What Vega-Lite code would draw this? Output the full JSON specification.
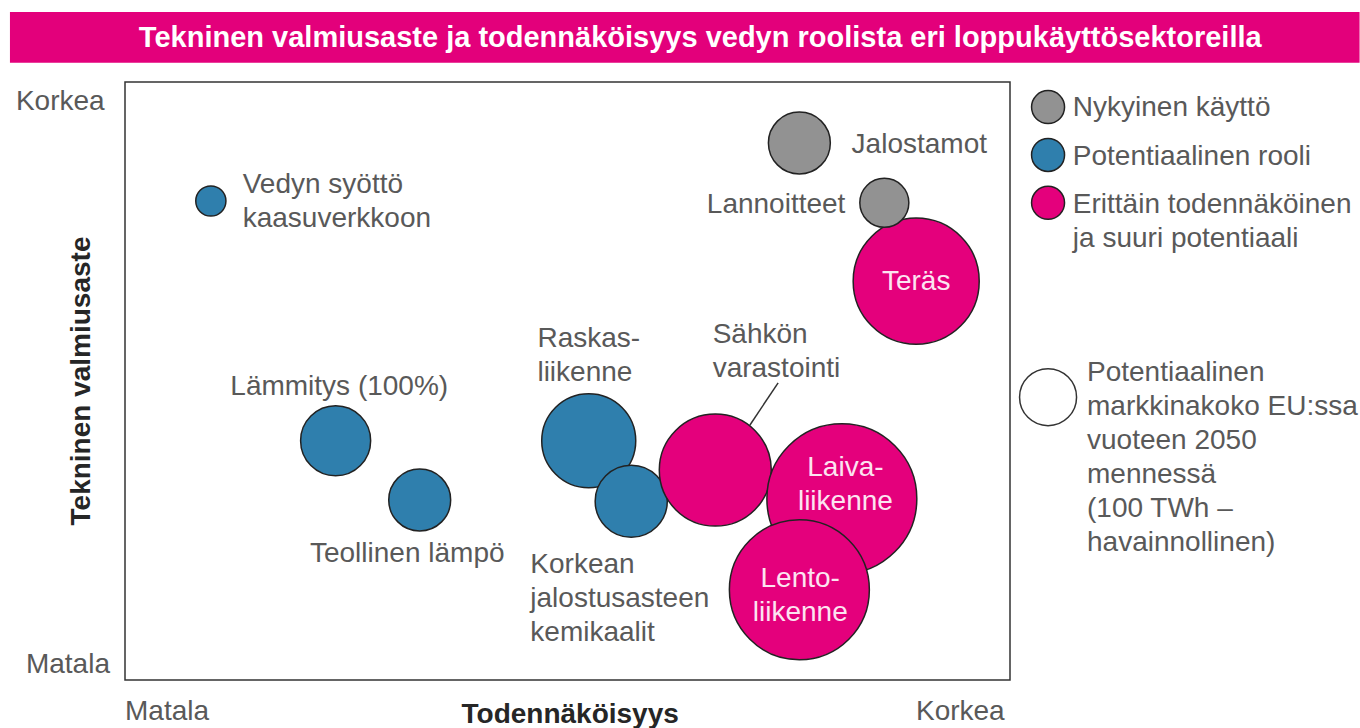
{
  "$schema": "https://vega.github.io/schema/vega-lite/v6.json",
  "width": 885,
  "height": 598,
  "autosize": {"type": "none"},
  "padding": {"left": 125, "top": 82, "right": 350, "bottom": 48},
  "background": "#ffffff",
  "view": {"stroke": "#333333", "strokeWidth": 1.5, "fill": null},
  "config": {"text": {"font": "Liberation Sans", "fontSize": 28, "color": "#595959"}},
  "datasets": {
    "kuplat": [
      {"nimi": "Teräs", "ryhma": "Erittäin todennäköinen ja suuri potentiaali", "x": 89.4, "y": 66.7, "koko": 489},
      {"nimi": "Lannoitteet", "ryhma": "Nykyinen käyttö", "x": 85.8, "y": 79.8, "koko": 74},
      {"nimi": "Jalostamot", "ryhma": "Nykyinen käyttö", "x": 76.2, "y": 89.8, "koko": 118},
      {"nimi": "Vedyn syöttö kaasuverkkoon", "ryhma": "Potentiaalinen rooli", "x": 9.7, "y": 80.1, "koko": 28},
      {"nimi": "Lämmitys (100%)", "ryhma": "Potentiaalinen rooli", "x": 23.8, "y": 40.0, "koko": 151},
      {"nimi": "Teollinen lämpö", "ryhma": "Potentiaalinen rooli", "x": 33.3, "y": 30.1, "koko": 118},
      {"nimi": "Raskasliikenne", "ryhma": "Potentiaalinen rooli", "x": 52.4, "y": 40.0, "koko": 272},
      {"nimi": "Korkean jalostusasteen kemikaalit", "ryhma": "Potentiaalinen rooli", "x": 57.2, "y": 29.9, "koko": 160},
      {"nimi": "Sähkön varastointi", "ryhma": "Erittäin todennäköinen ja suuri potentiaali", "x": 66.7, "y": 35.1, "koko": 386},
      {"nimi": "Laivaliikenne", "ryhma": "Erittäin todennäköinen ja suuri potentiaali", "x": 81.0, "y": 30.3, "koko": 692},
      {"nimi": "Lentoliikenne", "ryhma": "Erittäin todennäköinen ja suuri potentiaali", "x": 76.2, "y": 15.1, "koko": 603}
    ],
    "nimiot_vasen": [
      {"teksti": "Vedyn  syöttö\nkaasuverkkoon", "x": 13.3, "y": 81.4},
      {"teksti": "Lämmitys  (100%)", "x": 11.9, "y": 47.7},
      {"teksti": "Teollinen  lämpö", "x": 20.9, "y": 19.7},
      {"teksti": "Raskas-\nliikenne", "x": 46.6, "y": 55.7},
      {"teksti": "Sähkön\nvarastointi", "x": 66.4, "y": 56.4},
      {"teksti": "Korkean\njalostusasteen\nkemikaalit", "x": 45.8, "y": 17.9},
      {"teksti": "Jalostamot", "x": 82.1, "y": 88.1},
      {"teksti": "Matala", "x": 0, "y": -6.7},
      {"teksti": "Nykyinen  käyttö", "x": 107.1, "y": 94.3},
      {"teksti": "Potentiaalinen  rooli", "x": 107.1, "y": 86.1},
      {"teksti": "Erittäin  todennäköinen\nja  suuri  potentiaali", "x": 107.1, "y": 78.1},
      {"teksti": "Potentiaalinen\nmarkkinakoko  EU:ssa\nvuoteen  2050\nmennessä\n(100 TWh –\nhavainnollinen)", "x": 108.7, "y": 50.0}
    ],
    "nimiot_oikea": [
      {"teksti": "Lannoitteet", "x": 81.4, "y": 78.1},
      {"teksti": "Korkea", "x": -2.3, "y": 95.3},
      {"teksti": "Matala", "x": -1.7, "y": 1.2},
      {"teksti": "Korkea", "x": 99.4, "y": -6.7}
    ],
    "nimiot_sisa": [
      {"teksti": "Teräs", "x": 89.4, "y": 65.2},
      {"teksti": "Laiva-\nliikenne", "x": 81.4, "y": 34.1},
      {"teksti": "Lento-\nliikenne", "x": 76.3, "y": 15.6}
    ],
    "selite": [
      {"ryhma": "Nykyinen käyttö", "x": 104.3, "y": 95.8},
      {"ryhma": "Potentiaalinen rooli", "x": 104.3, "y": 87.8},
      {"ryhma": "Erittäin todennäköinen ja suuri potentiaali", "x": 104.3, "y": 79.8}
    ],
    "selite_koko": [
      {"ryhma": "Markkinakoko", "x": 104.3, "y": 47.3, "koko": 100}
    ]
  },
  "layer": [
    {
      "data": {"values": [{"x": -13.0, "x2": 139.5, "y": 111.7, "y2": 103.2}]},
      "mark": {"type": "rect", "fill": "#E3007B"},
      "encoding": {
        "x": {"field": "x", "type": "quantitative", "scale": {"domain": [0, 100], "nice": false, "zero": false}, "axis": null},
        "x2": {"field": "x2"},
        "y": {"field": "y", "type": "quantitative", "scale": {"domain": [0, 100], "nice": false, "zero": false}, "axis": null},
        "y2": {"field": "y2"}
      }
    },
    {
      "data": {"values": [{"teksti": "Tekninen valmiusaste ja todennäköisyys vedyn roolista eri loppukäyttösektoreilla", "x": 65.0, "y": 105.8}]},
      "mark": {"type": "text", "align": "center", "baseline": "alphabetic", "fontWeight": "bold", "fontSize": 29, "color": "#ffffff"},
      "encoding": {
        "x": {"field": "x", "type": "quantitative"},
        "y": {"field": "y", "type": "quantitative"},
        "text": {"field": "teksti"}
      }
    },
    {
      "data": {"name": "kuplat"},
      "mark": {"type": "circle", "opacity": 1, "stroke": "#222222", "strokeWidth": 1.5},
      "encoding": {
        "x": {"field": "x", "type": "quantitative"},
        "y": {"field": "y", "type": "quantitative"},
        "size": {"field": "koko", "type": "quantitative", "scale": {"type": "linear", "domain": [0, 100], "range": [0, 3249], "zero": true}, "legend": null},
        "fill": {"field": "ryhma", "type": "nominal", "scale": {"domain": ["Nykyinen käyttö", "Potentiaalinen rooli", "Erittäin todennäköinen ja suuri potentiaali", "Markkinakoko"], "range": ["#929292", "#2F7FAD", "#E4007C", "#ffffff"]}, "legend": null}
      }
    },
    {
      "data": {"values": [{"x": 73.8, "y": 49.7, "x2": 70.6, "y2": 42.6}]},
      "mark": {"type": "rule", "color": "#333333", "strokeWidth": 1.5},
      "encoding": {
        "x": {"field": "x", "type": "quantitative"},
        "y": {"field": "y", "type": "quantitative"},
        "x2": {"field": "x2"},
        "y2": {"field": "y2"}
      }
    },
    {
      "data": {"name": "selite"},
      "mark": {"type": "circle", "opacity": 1, "size": 1089, "stroke": "#222222", "strokeWidth": 1.5},
      "encoding": {
        "x": {"field": "x", "type": "quantitative"},
        "y": {"field": "y", "type": "quantitative"},
        "fill": {"field": "ryhma", "type": "nominal", "legend": null}
      }
    },
    {
      "data": {"name": "selite_koko"},
      "mark": {"type": "circle", "opacity": 1, "stroke": "#333333", "strokeWidth": 1.5},
      "encoding": {
        "x": {"field": "x", "type": "quantitative"},
        "y": {"field": "y", "type": "quantitative"},
        "size": {"field": "koko", "type": "quantitative", "legend": null},
        "fill": {"field": "ryhma", "type": "nominal", "legend": null}
      }
    },
    {
      "data": {"name": "nimiot_vasen"},
      "mark": {"type": "text", "align": "left", "baseline": "alphabetic", "lineBreak": "\n", "lineHeight": 34},
      "encoding": {
        "x": {"field": "x", "type": "quantitative"},
        "y": {"field": "y", "type": "quantitative"},
        "text": {"field": "teksti"}
      }
    },
    {
      "data": {"name": "nimiot_oikea"},
      "mark": {"type": "text", "align": "right", "baseline": "alphabetic"},
      "encoding": {
        "x": {"field": "x", "type": "quantitative"},
        "y": {"field": "y", "type": "quantitative"},
        "text": {"field": "teksti"}
      }
    },
    {
      "data": {"name": "nimiot_sisa"},
      "mark": {"type": "text", "align": "center", "baseline": "alphabetic", "lineBreak": "\n", "lineHeight": 34, "color": "#FCE4F1"},
      "encoding": {
        "x": {"field": "x", "type": "quantitative"},
        "y": {"field": "y", "type": "quantitative"},
        "text": {"field": "teksti"}
      }
    },
    {
      "data": {"values": [{"teksti": "Todennäköisyys", "x": 50.3, "y": -7.2}]},
      "mark": {"type": "text", "align": "center", "baseline": "alphabetic", "fontWeight": "bold", "color": "#262626"},
      "encoding": {
        "x": {"field": "x", "type": "quantitative"},
        "y": {"field": "y", "type": "quantitative"},
        "text": {"field": "teksti"}
      }
    },
    {
      "data": {"values": [{"teksti": "Tekninen valmiusaste", "x": -4.86, "y": 50.0}]},
      "mark": {"type": "text", "align": "center", "baseline": "middle", "angle": 270, "fontWeight": "bold", "color": "#262626"},
      "encoding": {
        "x": {"field": "x", "type": "quantitative"},
        "y": {"field": "y", "type": "quantitative"},
        "text": {"field": "teksti"}
      }
    }
  ]
}
